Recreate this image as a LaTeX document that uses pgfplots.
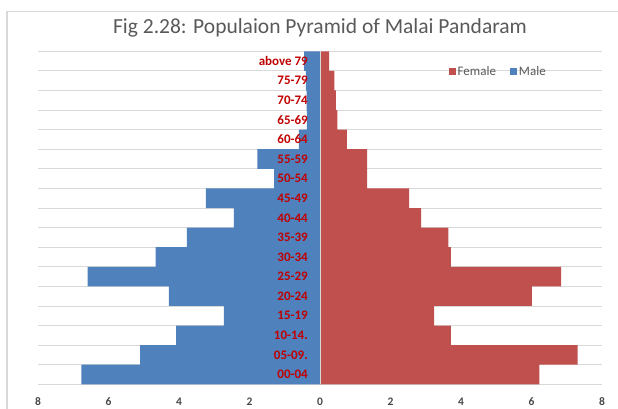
\documentclass[border=0pt]{standalone}
\usepackage{pgfplots}
\pgfplotsset{compat=1.18}
\usepackage{fontspec}
\setmainfont{Carlito}
\definecolor{male}{HTML}{4F81BD}
\definecolor{female}{HTML}{C0504D}
\definecolor{lab}{HTML}{C00000}
\definecolor{gridc}{HTML}{D9D9D9}
\definecolor{txt}{HTML}{595959}
\pgfplotsset{
  common/.style={
    at={(0pt,0pt)}, anchor=south west,
    scale only axis, width=564pt, height=333pt,
    xmin=-8, xmax=8, ymin=-0.5, ymax=16.5,
    major tick length=0pt, minor tick length=0pt,
  }
}
\begin{document}
\begin{tikzpicture}
\begin{axis}[
  common,
  axis x line*=bottom, axis y line*=left,
  x axis line style={gridc, line width=0.8pt, -},
  y axis line style={draw=none, -},
  xtick={-8,-6,-4,-2,0,2,4,6,8},
  xticklabels={8,6,4,2,0,2,4,6,8},
  xticklabel style={anchor=center, yshift=-17pt, font=\fontsize{11.5}{12}\selectfont\bfseries, text=black!72},
  ytick={0,...,16}, yticklabels={},
  minor ytick={-0.5,0.5,...,16.5},
  yminorgrids=true, ymajorgrids=false,
  minor grid style={gridc, line width=0.8pt},
  xbar, bar width=1,
  title={Fig 2.28: Populaion Pyramid of Malai Pandaram},
  title style={at={(0.5,1)}, anchor=base, yshift=12pt, font=\fontsize{21.5}{22}\selectfont, text=txt},
  legend columns=2,
  legend style={at={(0.816,0.939)}, anchor=center, draw=none, fill=none, font=\fontsize{13}{13}\selectfont, text=txt,
    /tikz/every even column/.append style={column sep=12pt}, inner sep=0pt},
  legend image code/.code={\fill[#1] (0pt,-3.5pt) rectangle (7pt,3.5pt);},
]
\addplot[fill=female, draw=none, bar shift=0pt] coordinates {
(6.22,0) (7.31,1) (3.71,2) (3.24,3) (6.01,4) (6.84,5) (3.71,6) (3.64,7) (2.87,8)
(2.53,9) (1.34,10) (1.34,11) (0.76,12) (0.49,13) (0.45,14) (0.41,15) (0.26,16)};
\addlegendentry{Female}
\addplot[fill=male, draw=none, bar shift=0pt] coordinates {
(-6.77,0) (-5.10,1) (-4.08,2) (-2.73,3) (-4.29,4) (-6.59,5) (-4.66,6) (-3.78,7) (-2.44,8)
(-3.24,9) (-1.30,10) (-1.78,11) (-0.60,12) (-0.37,13) (-0.38,14) (-0.40,15) (-0.45,16)};
\addlegendentry{Male}
\end{axis}
\begin{axis}[
  common,
  axis x line=none, axis y line*=middle,
  axis line style={gridc, line width=0.8pt, -},
  ytick={0,...,16},
  yticklabels={00-04,05-09.,10-14.,15-19,20-24,25-29,30-34,35-39,40-44,45-49,50-54,55-59,60-64,65-69,70-74,75-79,above 79},
  yticklabel style={anchor=east, inner sep=0pt, xshift=-12pt, font=\fontsize{13}{13}\selectfont\bfseries, text=lab},
]
\end{axis}
\draw[gridc, line width=1.3pt] (-31pt,373pt) rectangle (620pt,-60pt);
\pgfresetboundingbox
\path (-38pt,-23.7pt) rectangle (580pt,384.3pt);
\end{tikzpicture}
\end{document}
